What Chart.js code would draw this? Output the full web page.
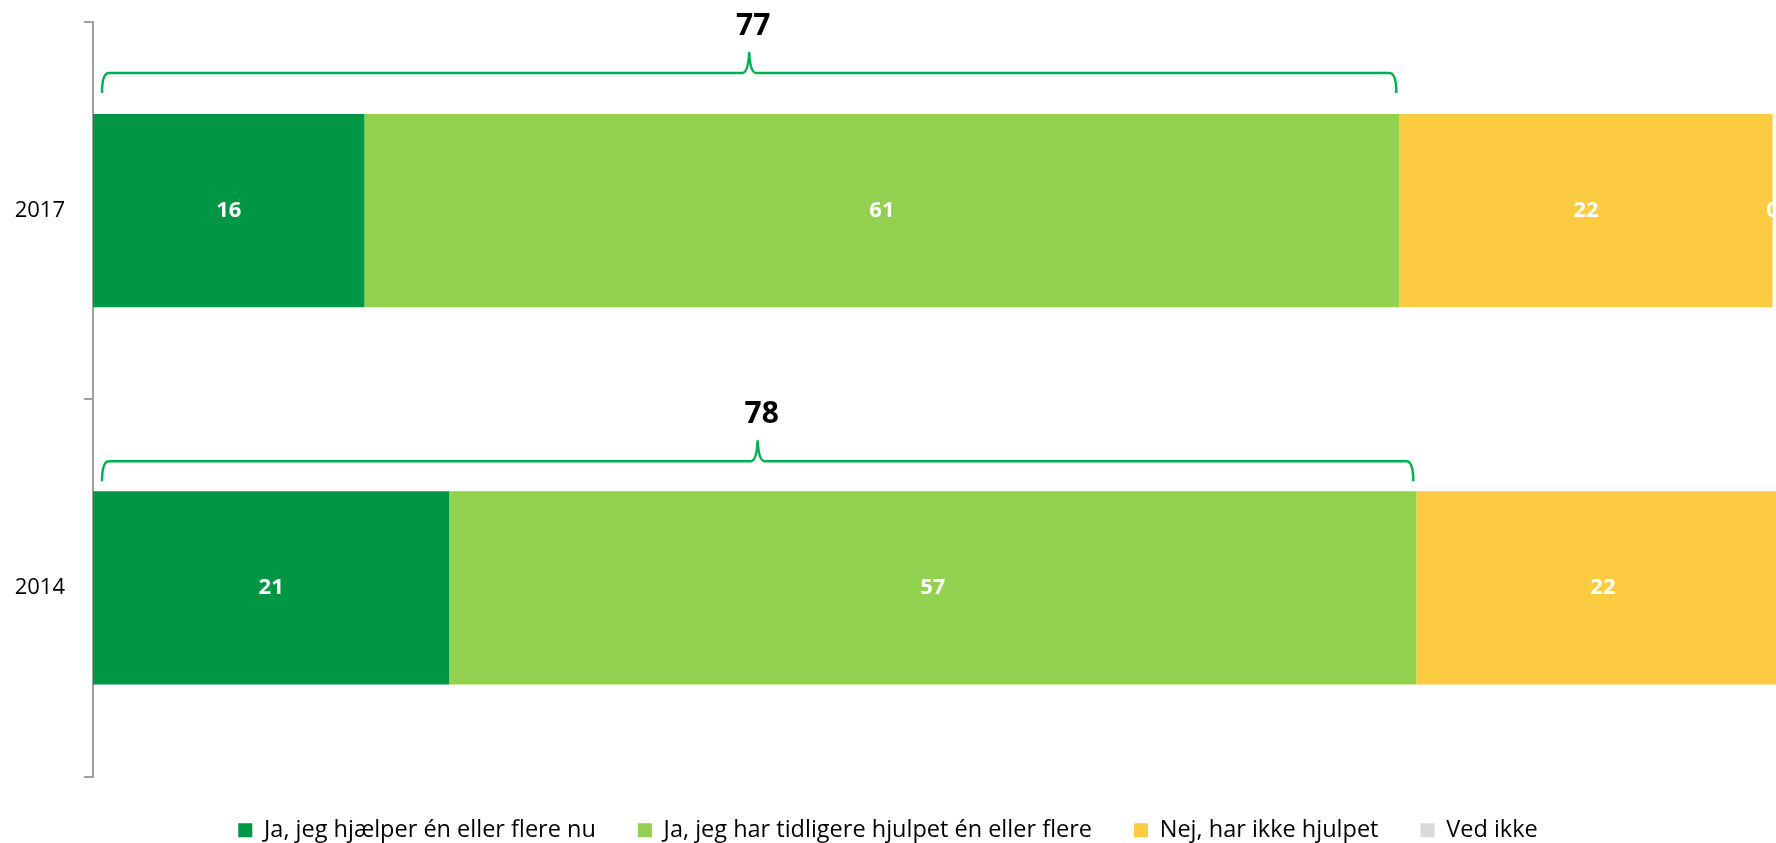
<!DOCTYPE html>
<html lang="da">
<head>
<meta charset="utf-8">
<title>Hjælp 2014 / 2017</title>
<script src="https://cdn.jsdelivr.net/npm/chart.js@4/dist/chart.umd.min.js"></script>
<style>
  html, body { margin: 0; padding: 0; background: #fff; overflow: hidden; }
  #wrap { position: relative; width: 1776px; height: 843px; }
</style>
</head>
<body>
<div id="wrap"><canvas id="chart"></canvas></div>
<script>
// Survey answers per year, in percent
const years = ['2017', '2014'];
const seriesNames = [
  'Ja, jeg hjælper én eller flere nu',
  'Ja, jeg har tidligere hjulpet én eller flere',
  'Nej, har ikke hjulpet',
  'Ved ikke',
];
const helpsNow = [16, 21];
const helpedBefore = [61, 57];
const notHelped = [22, 22];
const dontKnow = [0, 1];

const seriesColors = ['#009645', '#92D050', '#FCCB41', '#D9D9D9'];
const braceColor = '#00B050';
const FONT = '"Open Sans", "Noto Sans", sans-serif';

// white value labels centred in each segment
const segmentLabels = {
  id: 'segmentLabels',
  afterDatasetsDraw(chart) {
    const { ctx, chartArea } = chart;
    ctx.save();
    ctx.font = 'bold 22px ' + FONT;
    ctx.fillStyle = '#fff';
    ctx.textAlign = 'center';
    ctx.textBaseline = 'middle';
    chart.data.datasets.forEach((ds, i) => {
      chart.getDatasetMeta(i).data.forEach((bar, j) => {
        const cx = (bar.x + bar.base) / 2;
        if (cx > chartArea.right + 12) return;
        ctx.fillText(String(ds.data[j]), cx, bar.y);
      });
    });
    ctx.restore();
  },
};

// curly brace over the two "Ja" segments, with their sum on top
const yesBraces = {
  id: 'yesBraces',
  afterDatasetsDraw(chart) {
    const { ctx } = chart;
    const x = chart.scales.x;
    const lift = [41, 30];
    ctx.save();
    chart.getDatasetMeta(0).data.forEach((bar, j) => {
      const total = helpsNow[j] + helpedBefore[j];
      const x0 = x.getPixelForValue(0) + 9;
      const x1 = x.getPixelForValue(total) - 3;
      const xm = (x0 + x1) / 2;
      const y = bar.y - bar.height / 2 - lift[j];
      const hook = 20, peak = 21, r = 7;

      ctx.strokeStyle = braceColor;
      ctx.lineWidth = 2.5;
      ctx.beginPath();
      ctx.moveTo(x0, y + hook);
      ctx.quadraticCurveTo(x0, y, x0 + r, y);
      ctx.lineTo(xm - r, y);
      ctx.quadraticCurveTo(xm - 1, y, xm, y - peak);
      ctx.quadraticCurveTo(xm + 1, y, xm + r, y);
      ctx.lineTo(x1 - r, y);
      ctx.quadraticCurveTo(x1, y, x1, y + hook);
      ctx.stroke();

      ctx.font = 'bold 30px ' + FONT;
      ctx.fillStyle = '#000';
      ctx.textAlign = 'center';
      ctx.textBaseline = 'middle';
      ctx.fillText(String(total), xm + 4, y - peak - 26);
    });
    ctx.restore();
  },
};

const seriesData = [helpsNow, helpedBefore, notHelped, dontKnow];

new Chart(document.getElementById('chart'), {
  type: 'bar',
  data: {
    labels: years,
    datasets: seriesData.map((values, i) => ({
      label: seriesNames[i],
      data: values,
      backgroundColor: seriesColors[i],
      borderWidth: 0,
      categoryPercentage: 1,
      barPercentage: 0.512,
    })),
  },
  options: {
    indexAxis: 'y',
    responsive: true,
    maintainAspectRatio: false,
    devicePixelRatio: 1,
    animation: false,
    layout: { padding: { top: 22, left: 0, right: 0, bottom: -9 } },
    scales: {
      x: {
        stacked: true,
        display: false,
        min: 0,
        max: 99.2,
      },
      y: {
        stacked: true,
        afterFit: (scale) => {
          scale.width = 93;
          scale.paddingTop = 0;
          scale.paddingBottom = 0;
        },
        grid: {
          drawOnChartArea: false,
          offset: true,
          tickLength: 9,
          color: '#A0A0A0',
          lineWidth: 2,
        },
        border: { color: '#A0A0A0', width: 2 },
        ticks: {
          padding: 19,
          color: '#000',
          font: { family: FONT, size: 22 },
        },
      },
    },
    plugins: {
      legend: {
        position: 'bottom',
        labels: {
          boxWidth: 14,
          boxHeight: 14,
          padding: 42,
          color: '#000',
          font: { family: FONT, size: 23.5 },
        },
      },
      tooltip: { enabled: false },
    },
  },
  plugins: [segmentLabels, yesBraces],
});
</script>
</body>
</html>
